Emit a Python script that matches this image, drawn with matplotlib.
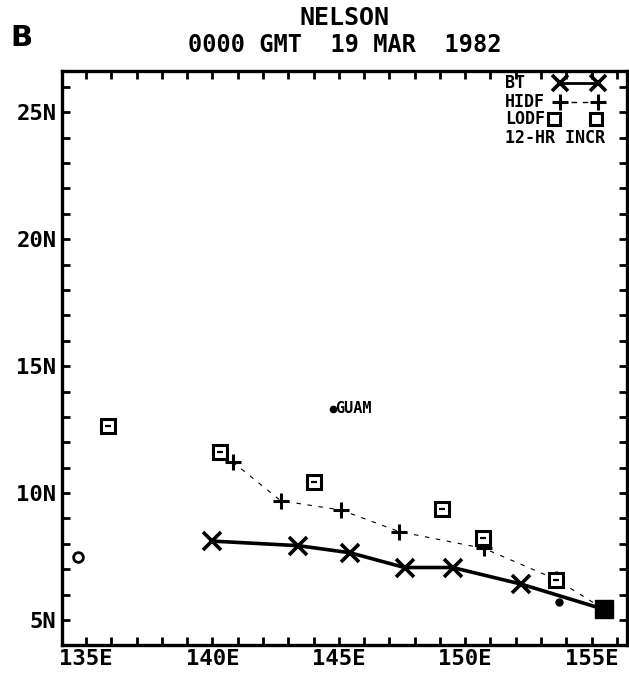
import matplotlib
matplotlib.use("Agg")
import matplotlib.pyplot as plt
from matplotlib.ticker import MultipleLocator, FuncFormatter

# best track (12-hr positions) and current position
bt_lon = [140.0, 143.4, 145.45, 147.6, 149.5, 152.2]
bt_lat = [8.11, 7.93, 7.65, 7.07, 7.07, 6.42]
now_lon = 155.5
now_lat = 5.42

# HIDF forecast (12-hr increments)
hidf_lon = [140.8, 142.7, 145.1, 147.4, 150.75, 153.6]
hidf_lat = [11.23, 9.7, 9.33, 8.48, 7.82, 6.6]

# LODF forecast (12-hr increments)
lodf_lon = [135.86, 140.29, 144.01, 149.08, 150.69, 153.6]
lodf_lat = [12.65, 11.63, 10.42, 9.36, 8.22, 6.57]

# extra marks
circ_lon, circ_lat = [134.7], [7.49]
dot_lon, dot_lat = [153.7], [5.72]
guam_lon, guam_lat = 144.76, 13.33

FONT = "DejaVu Sans Mono"

fig = plt.figure(figsize=(6.29, 6.76), dpi=100)
ax = fig.add_axes([0.0986, 0.0459, 0.8982, 0.8491])

# tracks
ax.plot(hidf_lon + [now_lon], hidf_lat + [now_lat], color="black", lw=0.8,
        ls=(0, (4, 6)), zorder=2)
ax.plot(hidf_lon, hidf_lat, ls="none", marker="+", ms=11, mew=2.2, color="black", zorder=3)
ax.plot(bt_lon + [now_lon], bt_lat + [now_lat], color="black", lw=2.6, zorder=2,
        solid_capstyle="round")
ax.plot(bt_lon, bt_lat, ls="none", marker="x", ms=13, mew=2.6, color="black", zorder=3)
ax.plot(lodf_lon, lodf_lat, ls="none", marker="s", ms=10, mew=2.2, mfc="white",
        mec="black", zorder=4)
ax.plot(lodf_lon, lodf_lat, ls="none", marker="_", ms=4, mew=1.6, color="black", zorder=5)
ax.plot([now_lon], [now_lat], ls="none", marker="s", ms=13, color="black", zorder=5)
ax.plot(circ_lon, circ_lat, ls="none", marker="o", ms=7, mfc="white", mec="black", mew=2)
ax.plot(dot_lon, dot_lat, ls="none", marker="o", ms=5, color="black")

ax.plot([guam_lon], [guam_lat], ls="none", marker="o", ms=4.5, color="black")
ax.text(guam_lon + 0.08, guam_lat, "GUAM", family=FONT, fontweight="bold",
        fontsize=11, va="center", ha="left")

# axes
ax.set_xlim(134.05, 156.4)
ax.set_ylim(4.02, 26.62)
ax.xaxis.set_major_locator(MultipleLocator(5))
ax.xaxis.set_minor_locator(MultipleLocator(1))
ax.yaxis.set_major_locator(MultipleLocator(5))
ax.yaxis.set_minor_locator(MultipleLocator(1))
ax.xaxis.set_major_formatter(FuncFormatter(lambda v, p: "%dE" % v))
ax.yaxis.set_major_formatter(FuncFormatter(lambda v, p: "%dN" % v))
ax.tick_params(which="both", direction="in", top=True, right=True,
               length=6, width=2, color="black")
ax.tick_params(axis="x", pad=3)
ax.tick_params(axis="y", pad=4)
for lab in ax.get_xticklabels() + ax.get_yticklabels():
    lab.set_family(FONT)
    lab.set_fontweight("bold")
    lab.set_fontsize(16)
for s in ax.spines.values():
    s.set_linewidth(2.4)

# legend drawn by hand
leg_y = [0.979, 0.946, 0.916]
leg_txt = ["BT", "HIDF", "LODF"]
for t, yy in zip(leg_txt, leg_y):
    ax.text(0.784, yy, t, transform=ax.transAxes, family=FONT, fontweight="bold",
            fontsize=12, va="center", ha="left")
ax.plot([0.881, 0.949], [0.979, 0.979], transform=ax.transAxes, color="black", lw=2,
        marker="x", ms=12, mew=2.6, clip_on=False)
ax.plot([0.881, 0.949], [0.946, 0.946], transform=ax.transAxes, color="black", lw=1,
        ls=(0, (4, 4)), marker="+", ms=11, mew=2.2, clip_on=False)
ax.plot([0.870, 0.946], [0.916, 0.916], transform=ax.transAxes, ls="none",
        marker="s", ms=8.5, mew=2.2, mfc="white", mec="black", clip_on=False)
ax.text(0.784, 0.884, "12-HR INCR", transform=ax.transAxes, family=FONT,
        fontweight="bold", fontsize=12, va="center", ha="left")

# titles
fig.text(0.548, 0.973, "NELSON", family=FONT, fontweight="bold", fontsize=18,
         ha="center", va="center")
fig.text(0.548, 0.933, "0000 GMT  19 MAR  1982", family=FONT, fontweight="bold",
         fontsize=17, ha="center", va="center")
fig.text(0.016, 0.944, "B", family="DejaVu Sans", fontweight="bold", fontsize=21,
         ha="left", va="center")

fig.savefig("out.png", dpi=100)
